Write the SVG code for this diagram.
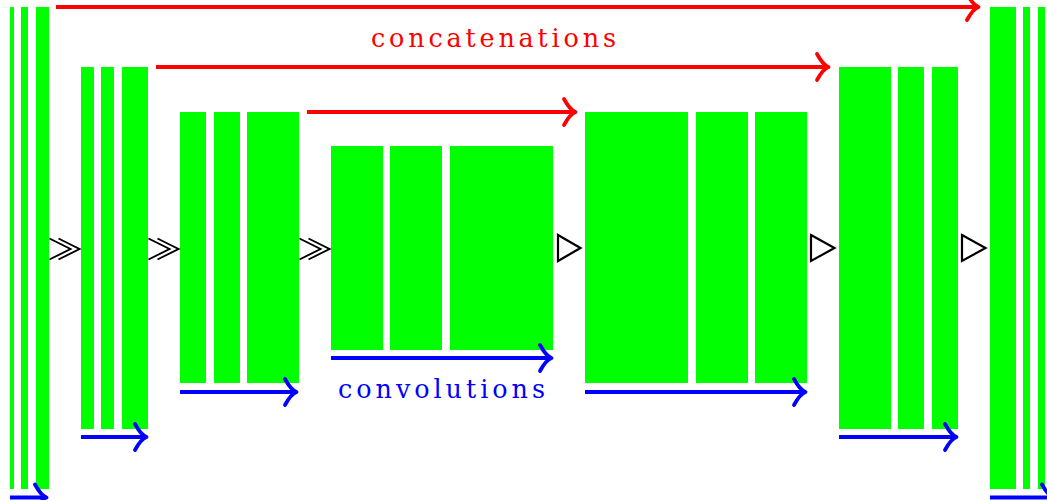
<svg xmlns="http://www.w3.org/2000/svg" width="1047" height="500" viewBox="0 0 1047 500">
<style>
.b{fill:#00ff00}
.red{stroke:#ff0000;stroke-width:4;fill:none}
.blue{stroke:#0000ff;stroke-width:4;fill:none}
.sym{stroke:#000;stroke-width:1.9;fill:none}
.tri{stroke:#000;stroke-width:2.2;fill:none;stroke-linejoin:miter}
.lbl{font-family:"DejaVu Serif","Liberation Serif",serif;font-size:25.5px}
</style>
<defs>
<path id="ah" d="M-13,-13 Q-7,-2 -1.5,0 Q-7,2 -13,13" stroke-width="3.8" stroke-linecap="round" stroke-linejoin="round" fill="none"/>
</defs>
<rect width="1047" height="500" fill="#fff"/>
<g id="layer1">
<rect class="b" x="10" y="7" width="4" height="482"/>
<rect class="b" x="21" y="7" width="7" height="482"/>
<rect class="b" x="36" y="7" width="13" height="482"/>
</g>
<g id="layer2">
<rect class="b" x="81" y="67" width="13" height="362"/>
<rect class="b" x="101" y="67" width="13" height="362"/>
<rect class="b" x="122" y="67" width="26" height="362"/>
</g>
<g id="layer3">
<rect class="b" x="180" y="112" width="26" height="271"/>
<rect class="b" x="214" y="112" width="26" height="271"/>
<rect class="b" x="247" y="112" width="52" height="271"/>
</g>
<g id="layer4">
<rect class="b" x="331" y="146" width="52" height="204"/>
<rect class="b" x="390" y="146" width="52" height="204"/>
<rect class="b" x="450" y="146" width="103" height="204"/>
</g>
<g id="layer5">
<rect class="b" x="585" y="112" width="103" height="271"/>
<rect class="b" x="696" y="112" width="52" height="271"/>
<rect class="b" x="755" y="112" width="52" height="271"/>
</g>
<g id="layer6">
<rect class="b" x="839" y="67" width="52" height="362"/>
<rect class="b" x="898" y="67" width="26" height="362"/>
<rect class="b" x="932" y="67" width="26" height="362"/>
</g>
<g id="layer7">
<rect class="b" x="990" y="7" width="26" height="482"/>
<rect class="b" x="1023" y="7" width="7" height="482"/>
<rect class="b" x="1038" y="7" width="7" height="482"/>
</g>
<g id="connectors">
<path class="red" d="M56,7 H978"/>
<use href="#ah" x="980" y="7" stroke="#ff0000"/>
<path class="red" d="M156,67 H828"/>
<use href="#ah" x="830" y="67" stroke="#ff0000"/>
<path class="red" d="M307,112 H575"/>
<use href="#ah" x="577" y="112" stroke="#ff0000"/>

<path class="blue" d="M10,497.5 H46"/>
<use href="#ah" x="48" y="497.5" stroke="#0000ff"/>
<path class="blue" d="M81,437 H146"/>
<use href="#ah" x="148" y="437" stroke="#0000ff"/>
<path class="blue" d="M180,392 H296"/>
<use href="#ah" x="298" y="392" stroke="#0000ff"/>
<path class="blue" d="M331,358 H551"/>
<use href="#ah" x="553" y="358" stroke="#0000ff"/>
<path class="blue" d="M585,392 H805"/>
<use href="#ah" x="807" y="392" stroke="#0000ff"/>
<path class="blue" d="M839,437 H956"/>
<use href="#ah" x="958" y="437" stroke="#0000ff"/>
<path class="blue" d="M990,497.5 H1053"/>
<use href="#ah" x="1055" y="497.5" stroke="#0000ff"/>

<path class="sym" d="M49.5,238.5 L70.5,249 L49.5,259.5 M58.5,238.5 L79.5,249 L58.5,259.5"/>
<path class="sym" d="M148.5,238.5 L169.5,249 L148.5,259.5 M157.5,238.5 L178.5,249 L157.5,259.5"/>
<path class="sym" d="M299.5,238.5 L320.5,249 L299.5,259.5 M308.5,238.5 L329.5,249 L308.5,259.5"/>

<path class="tri" d="M558,235 L580.5,248 L558,261 Z"/>
<path class="tri" d="M811,235 L834.5,248 L811,261 Z"/>
<path class="tri" d="M962,235 L985.5,248 L962,261 Z"/>
</g>
<text class="lbl" x="371" y="47" fill="#ff0000" textLength="245" lengthAdjust="spacing">concatenations</text>
<text class="lbl" x="338" y="398" fill="#0000ff" textLength="207" lengthAdjust="spacing">convolutions</text>
</svg>
